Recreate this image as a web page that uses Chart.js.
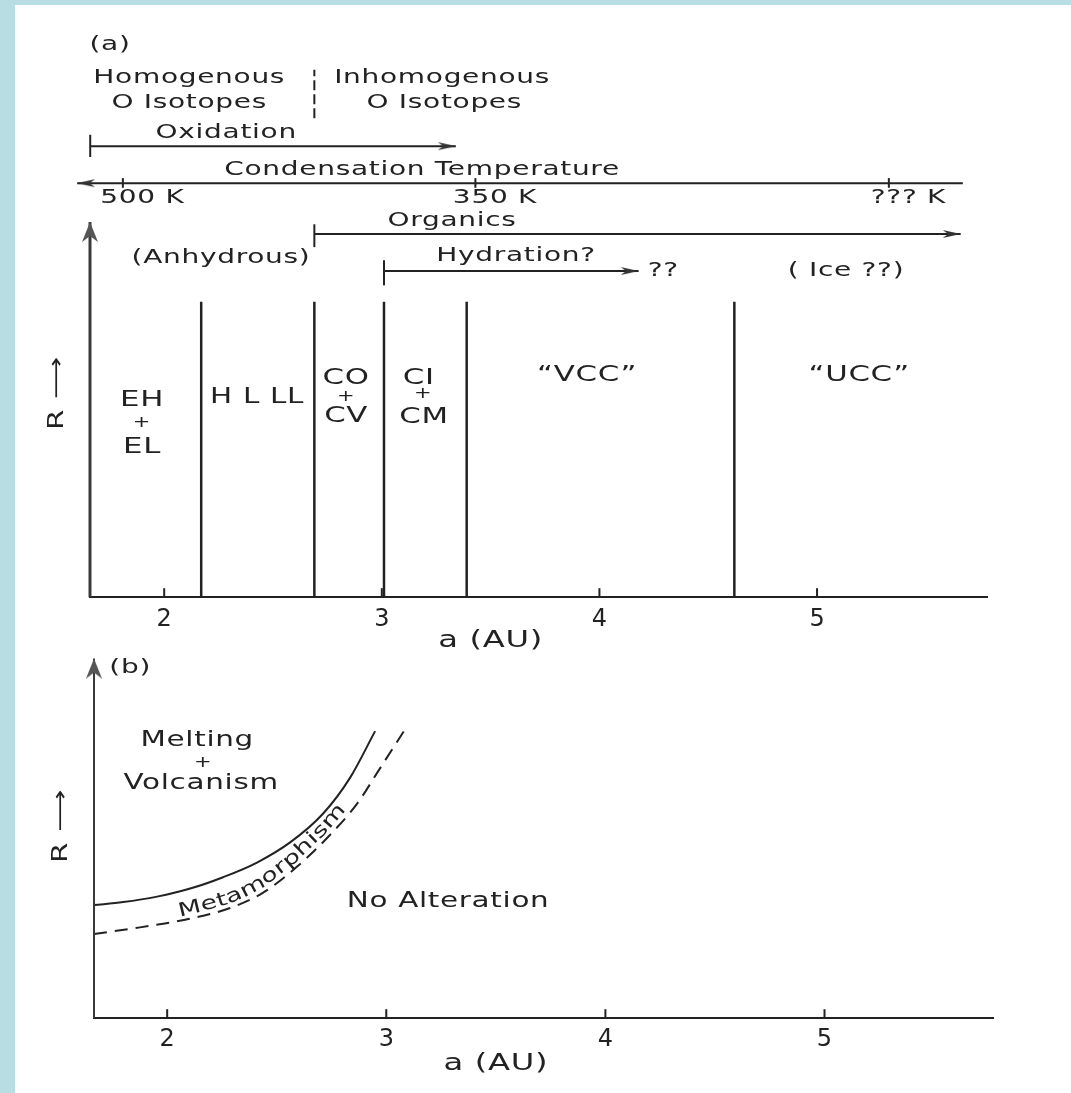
<!DOCTYPE html>
<html>
<head>
<meta charset="utf-8">
<script src="https://cdn.jsdelivr.net/npm/chart.js@4.4.1/dist/chart.umd.min.js"></script>
<style>
  body { margin: 0; background: #b8dde2; width: 1071px; height: 1093px; position: relative; overflow: hidden; }
  #paper { position: absolute; left: 15px; top: 5px; right: 0; bottom: 0; background: #fff; }
  canvas { position: absolute; left: 0; }
  #panelA { top: 0; }
  #panelB { top: 630px; }
</style>
</head>
<body>
<div id="paper"></div>
<canvas id="panelA" width="1071" height="660"></canvas>
<canvas id="panelB" width="1071" height="463"></canvas>
<script>
// semi-major axis ticks, both panels
const xTicks = [2, 3, 4, 5];
const rangeA = [1.659, 5.781];
const rangeB = [1.666, 5.769];

// (a) boundaries between meteorite classes (AU)
const boundaryAU = [2.17, 2.69, 3.01, 3.39, 4.62];
const boundaryTop = 5.18;

// condensation temperature marks
const tempLabels = ['500 K', '350 K', '??? K'];
const tempAU = [1.81, 3.43, 5.33];

// process arrows, [from, to] in AU
const oxidationAU = [1.66, 3.34];
const condensationAU = [5.67, 1.60];
const organicsAU = [2.69, 5.66];
const hydrationAU = [3.01, 4.18];

// (b) melting limit (solid) and metamorphism limit (dashed)
const meltAU = [1.666, 1.799, 1.954, 2.105, 2.255, 2.410, 2.561, 2.712, 2.835, 2.949];
const meltR  = [3.09, 3.17, 3.32, 3.54, 3.85, 4.25, 4.80, 5.59, 6.57, 7.84];
const metaAU = [1.666, 1.876, 2.082, 2.287, 2.438, 2.593, 2.744, 2.867, 2.972, 3.086];
const metaR  = [2.30, 2.48, 2.69, 3.01, 3.43, 4.14, 5.01, 5.86, 6.83, 7.89];

const INK = '#222';
const FONT = '"DejaVu Sans", sans-serif';
const STRETCH = 1.4;

function makeHead(len, half, color) {
  // tip sits at the canvas centre so the point marks the arrow tip
  const c = document.createElement('canvas');
  c.width = len * 2; c.height = half * 2 + 2;
  const g = c.getContext('2d');
  g.fillStyle = color;
  g.beginPath();
  g.moveTo(len, half + 1);
  g.lineTo(0, 1);
  g.lineTo(len * 0.3, half + 1);
  g.lineTo(0, half * 2 + 1);
  g.closePath();
  g.fill();
  return c;
}
const smallHead = makeHead(18, 4, '#333');
const bigHead = makeHead(20, 8, '#555');

const seg = (x0, y0, x1, y1) => [{ x: x0, y: y0 }, { x: x1, y: y1 }];
const lineSet = (data, extra) => Object.assign({
  data, showLine: true, borderColor: INK, borderWidth: 2, pointRadius: 0, clip: false
}, extra);
const arrowSet = (data, rot, head, extra) => lineSet(data, Object.assign({
  pointStyle: head || smallHead,
  pointRadius: [0, 20],
  pointRotation: rot
}, extra));

function drawText(ctx, t, x, y, size, rot) {
  ctx.save();
  ctx.translate(x, y);
  if (rot) ctx.rotate(rot * Math.PI / 180);
  ctx.scale(STRETCH, 1);
  ctx.font = size + 'px ' + FONT;
  ctx.letterSpacing = '0.5px';
  ctx.fillStyle = INK;
  ctx.textAlign = 'center';
  ctx.textBaseline = 'middle';
  ctx.fillText(t, 0, 0);
  ctx.restore();
}

// letters laid along a curve, offset to its upper side
function drawOnCurve(ctx, t, pts, fromX, off, size) {
  const lens = [0];
  for (let i = 1; i < pts.length; i++) {
    lens.push(lens[i - 1] + Math.hypot(pts[i].x - pts[i - 1].x, pts[i].y - pts[i - 1].y));
  }
  const at = s => {
    let i = 0;
    while (i < pts.length - 2 && lens[i + 1] < s) i++;
    const f = (s - lens[i]) / (lens[i + 1] - lens[i]);
    return { x: pts[i].x + f * (pts[i + 1].x - pts[i].x), y: pts[i].y + f * (pts[i + 1].y - pts[i].y) };
  };
  let s = 0;
  for (let i = 0; i < pts.length - 1; i++) {
    if (pts[i + 1].x >= fromX) {
      const f = (fromX - pts[i].x) / (pts[i + 1].x - pts[i].x);
      s = lens[i] + f * (lens[i + 1] - lens[i]);
      break;
    }
  }
  ctx.save();
  ctx.font = size + 'px ' + FONT;
  ctx.fillStyle = INK;
  ctx.textAlign = 'center';
  ctx.textBaseline = 'middle';
  for (const ch of t) {
    const w = ctx.measureText(ch).width * STRETCH + 0.5;
    const p = at(s + w / 2);
    const p0 = at(s + w / 2 - 12), p1 = at(s + w / 2 + 12);
    const a = Math.atan2(p1.y - p0.y, p1.x - p0.x);
    ctx.save();
    ctx.translate(p.x + Math.sin(a) * off, p.y - Math.cos(a) * off);
    ctx.rotate(a);
    ctx.scale(STRETCH, 1);
    ctx.fillText(ch, 0, 0);
    ctx.restore();
    s += w;
  }
  ctx.restore();
}

const notesPlugin = {
  id: 'notes',
  afterDraw(chart, args, opts) {
    const { ctx, scales: { x, y } } = chart;
    const base = y.getPixelForValue(0);
    ctx.save();
    ctx.strokeStyle = INK;
    ctx.lineWidth = 2;
    xTicks.forEach(v => {
      const px = x.getPixelForValue(v);
      ctx.beginPath();
      ctx.moveTo(px, base);
      ctx.lineTo(px, base - 9);
      ctx.stroke();
    });
    ctx.restore();
    opts.items.forEach(n => drawText(ctx, n.t, x.getPixelForValue(n.x), y.getPixelForValue(n.y), n.size || 20, n.rot));
    (opts.curveText || []).forEach(n => {
      const pts = n.xs.map((v, i) => ({ x: x.getPixelForValue(v), y: y.getPixelForValue(n.ys[i]) }));
      drawOnCurve(ctx, n.t, pts, x.getPixelForValue(n.from), n.off, n.size);
    });
    drawText(ctx, 'a (AU)', x.getPixelForValue(3.5), base + opts.titleGap, 23);
  }
};

function scalesFor(range, pad) {
  return {
    x: {
      type: 'linear', min: range[0], max: range[1],
      afterBuildTicks: ax => { ax.ticks = xTicks.map(v => ({ value: v })); },
      grid: { display: false, drawTicks: false },
      border: { display: true, color: INK, width: 2 },
      ticks: { padding: pad, color: INK, font: { family: 'DejaVu Sans', size: 24 }, callback: v => String(v) }
    },
    y: { display: false, min: 0, max: 10 }
  };
}

const notesA = [
  { t: '(a)', x: 1.751, y: 9.68 },
  { t: 'Homogenous', x: 2.115, y: 9.11 },
  { t: 'O Isotopes', x: 2.115, y: 8.67 },
  { t: 'Inhomogenous', x: 3.277, y: 9.11 },
  { t: 'O Isotopes', x: 3.287, y: 8.67 },
  { t: 'Oxidation', x: 2.285, y: 8.14 },
  { t: 'Condensation Temperature', x: 3.185, y: 7.49 },
  ...tempLabels.map((t, i) => ({ t, x: tempAU[i] + 0.09, y: 7.0 })),
  { t: 'Organics', x: 3.323, y: 6.61 },
  { t: '(Anhydrous)', x: 2.261, y: 5.95 },
  { t: 'Hydration?', x: 3.617, y: 5.98 },
  { t: '??', x: 4.293, y: 5.72 },
  { t: '( Ice ??)', x: 5.133, y: 5.72 },
  { t: 'EH', x: 1.898, y: 3.46, size: 22 },
  { t: '+', x: 1.898, y: 3.05, size: 15 },
  { t: 'EL', x: 1.898, y: 2.63, size: 22 },
  { t: 'H L LL', x: 2.427, y: 3.51, size: 21 },
  { t: 'CO', x: 2.836, y: 3.84, size: 22 },
  { t: '+', x: 2.836, y: 3.51, size: 15 },
  { t: 'CV', x: 2.836, y: 3.18, size: 22 },
  { t: 'CI', x: 3.17, y: 3.84, size: 22 },
  { t: '+', x: 3.19, y: 3.56, size: 15 },
  { t: 'CM', x: 3.194, y: 3.16, size: 22 },
  { t: '“VCC”', x: 3.943, y: 3.89, size: 22 },
  { t: '“UCC”', x: 5.194, y: 3.89, size: 22 },
  { t: 'R ⟶', x: 1.512, y: 3.58, size: 21, rot: -90 }
];

const notesB = [
  { t: '(b)', x: 1.831, y: 9.58 },
  { t: 'Melting', x: 2.137, y: 7.57, size: 21 },
  { t: '+', x: 2.164, y: 6.97, size: 15 },
  { t: 'Volcanism', x: 2.155, y: 6.41, size: 21 },
  { t: 'No Alteration', x: 3.282, y: 3.19, size: 21 },
  { t: 'R ⟶', x: 1.520, y: 5.25, size: 21, rot: -90 }
];
const curveTextB = [
  { t: 'Metamorphism', xs: metaAU, ys: metaR, from: 2.06, off: 9, size: 19 }
];

const base = {
  animation: false,
  responsive: false,
  events: [],
  plugins: { legend: { display: false }, tooltip: { enabled: false } }
};

new Chart(document.getElementById('panelA'), {
  type: 'scatter',
  data: {
    datasets: [
      arrowSet(seg(rangeA[0], 0, rangeA[0], 6.58), -90, bigHead, { borderWidth: 3, borderColor: '#3a3a3a' }),
      ...boundaryAU.map(b => lineSet(seg(b, 0, b, boundaryTop), { borderWidth: 2.5 })),
      lineSet(seg(boundaryAU[1], 8.40, boundaryAU[1], 9.25), { borderDash: [10, 4] }),
      arrowSet(seg(oxidationAU[0], 7.91, oxidationAU[1], 7.91), 0),
      lineSet(seg(oxidationAU[0], 7.72, oxidationAU[0], 8.11)),
      arrowSet(seg(condensationAU[0], 7.26, condensationAU[1], 7.26), 180),
      ...tempAU.map(t => lineSet(seg(t, 7.18, t, 7.35))),
      arrowSet(seg(organicsAU[0], 6.37, organicsAU[1], 6.37), 0),
      lineSet(seg(organicsAU[0], 6.14, organicsAU[0], 6.54)),
      arrowSet(seg(hydrationAU[0], 5.72, hydrationAU[1], 5.72), 0),
      lineSet(seg(hydrationAU[0], 5.47, hydrationAU[0], 5.91))
    ]
  },
  options: Object.assign({}, base, {
    layout: { padding: { left: 90, right: 84, top: 27, bottom: 18 } },
    scales: scalesFor(rangeA, 8),
    plugins: Object.assign({}, base.plugins, { notes: { items: notesA, titleGap: 44 } })
  }),
  plugins: [notesPlugin]
});

new Chart(document.getElementById('panelB'), {
  type: 'scatter',
  data: {
    datasets: [
      arrowSet(seg(rangeB[0], 0, rangeB[0], 9.82), -90, bigHead, { borderColor: '#3a3a3a' }),
      lineSet(meltAU.map((a, i) => ({ x: a, y: meltR[i] })), { cubicInterpolationMode: 'monotone' }),
      lineSet(metaAU.map((a, i) => ({ x: a, y: metaR[i] })), { cubicInterpolationMode: 'monotone', borderDash: [13, 8] })
    ]
  },
  options: Object.assign({}, base, {
    layout: { padding: { left: 94, right: 78, top: 10, bottom: 32 } },
    scales: scalesFor(rangeB, 7),
    plugins: Object.assign({}, base.plugins, { notes: { items: notesB, curveText: curveTextB, titleGap: 46 } })
  }),
  plugins: [notesPlugin]
});
</script>
</body>
</html>
